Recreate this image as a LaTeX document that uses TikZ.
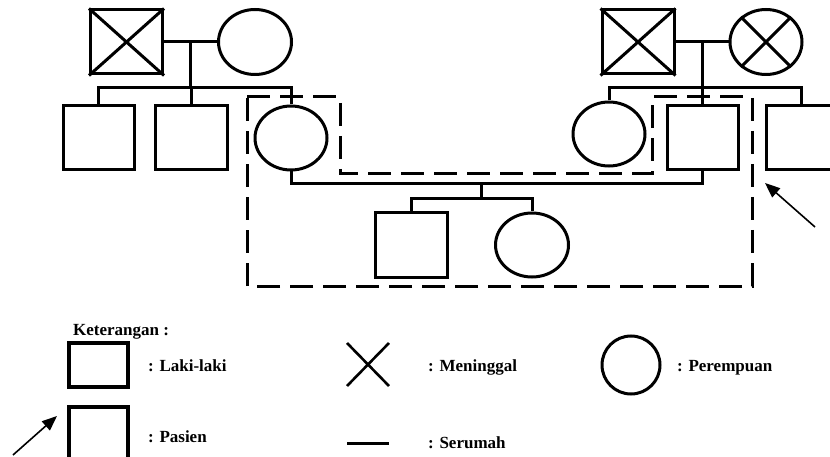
\documentclass[tikz,border=0pt]{standalone}
\usepackage{fontspec}
\setmainfont{Liberation Serif}
\usetikzlibrary{shapes.geometric,arrows.meta}
\tikzset{
  line/.style={line width=3pt},
  male/.style={draw, line width=3pt, rectangle, inner sep=0pt, minimum width=72pt, minimum height=64pt},
  female/.style={draw, line width=3pt, ellipse, inner sep=0pt, minimum width=72pt, minimum height=64pt},
  house/.style={line width=3pt, dash pattern=on 23pt off 10pt},
  pointer/.style={line width=1.6pt, -{Triangle[length=15pt,width=12pt]}},
  legsq/.style={draw, line width=3.6pt, rectangle, inner sep=0pt, minimum width=59pt, minimum height=44pt},
  legtext/.style={anchor=base west, inner sep=0pt, font=\fontsize{17}{20}\selectfont\bfseries},
}
\begin{document}
\begin{tikzpicture}[x=1pt, y=-1pt]
\useasboundingbox (0,0) rectangle (830,457);
\clip (0,0) rectangle (830,457);

% paternal grandparents and their children
\node[male] (gf1) at (126.5,42) {};
\draw[line] (gf1.north west) -- (gf1.south east) (gf1.north east) -- (gf1.south west);
\node[female, minimum width=73pt, minimum height=65pt] (gm1) at (255,42) {};
\node[male, minimum width=71pt] (u1) at (98.5,138) {};
\node[male] (u2) at (191,138) {};
\node[female] (mom) at (291,138) {};
\coordinate (m1) at (190,42);
\coordinate (s1) at (190,88);
\draw[line] (gf1.east) -- (gm1.west);
\draw[line] (m1) -- (s1);
\draw[line] (u1.north) |- (s1) -| (mom.north);
\draw[line] (u2.north) -- (u2.north |- s1);

% maternal grandparents and their children
\node[male] (gf2) at (638,42) {};
\draw[line] (gf2.north west) -- (gf2.south east) (gf2.north east) -- (gf2.south west);
\node[female, minimum height=65pt] (gm2) at (766,42) {};
\draw[line] (gm2.45) -- (gm2.225) (gm2.135) -- (gm2.315);
\node[female] (aunt) at (609,134) {};
\node[male, minimum width=71pt] (dad) at (702.5,138) {};
\node[male, minimum width=71pt] (u3) at (801.5,138) {};
\coordinate (m2) at (702,42);
\coordinate (s2) at (702,88);
\draw[line] (gf2.east) -- (gm2.west);
\draw[line] (m2) -- (s2);
\draw[line] (aunt.north) |- (s2) -| (u3.north);
\draw[line] (dad.north) -- (dad.north |- s2);

% the couple and their children
\node[male] (c1) at (411,245) {};
\node[female, minimum width=73pt] (c2) at (532,245) {};
\coordinate (cp) at (481,184);
\coordinate (s3) at (481,199);
\draw[line] (mom.south) |- (cp) -| (dad.south);
\draw[line] (cp) -- (s3);
\draw[line] (c1.north) |- (s3) -| (c2.north);

% household boundary
\draw[house] (247,97) -- (340,97) -- (340,174) -- (652,174) -- (652,97)
  -- (752,97) -- (752,286) -- (247,286) -- cycle;

% patient pointer
\coordinate (pt1) at (815,227);
\coordinate (pt2) at (765,183);
\draw[pointer] (pt1) -- (pt2);

% legend
\node[legtext] (ket) at (73,335) {Keterangan :};
\node[legsq] (lsq1) at (98.5,365) {};
\node[legtext] (tlaki) at (148,371) {: Laki-laki};
\node[legsq, minimum height=56pt] (lsq2) at (98.5,435) {};
\node[legtext] (tpas) at (148,442) {: Pasien};
\coordinate (la1) at (13,455);
\coordinate (la2) at (57,416);
\draw[pointer] (la1) -- (la2);

\coordinate (x1) at (347,343);
\coordinate (x2) at (389,386);
\coordinate (x3) at (389,343);
\coordinate (x4) at (347,386);
\draw[line width=2.6pt] (x1) -- (x2) (x3) -- (x4);
\node[legtext] (tmen) at (428,371) {: Meninggal};
\coordinate (sr1) at (347,443);
\coordinate (sr2) at (389,443);
\draw[line width=3pt] (sr1) -- (sr2);
\node[legtext] (tser) at (428,448) {: Serumah};
\node[draw, line width=3pt, circle, inner sep=0pt, minimum size=58pt] (lcirc) at (631,365) {};
\node[legtext] (tper) at (677,371) {: Perempuan};
\end{tikzpicture}
\end{document}
